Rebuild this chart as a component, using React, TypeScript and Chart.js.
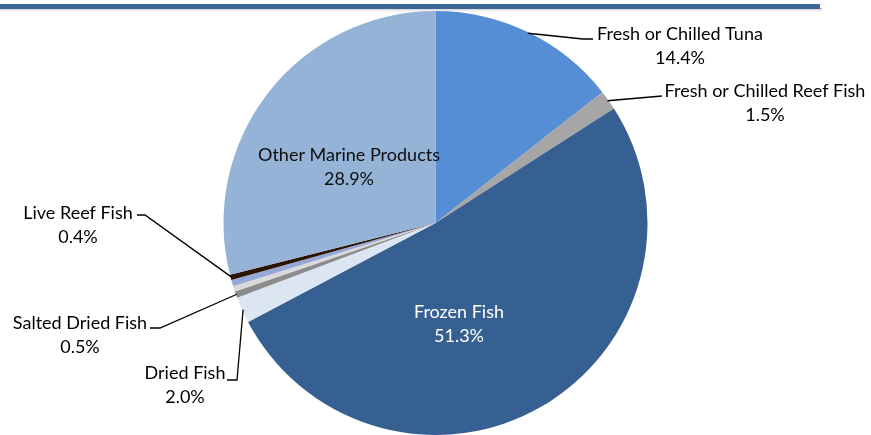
import React, { useEffect, useRef } from "react";
import { Chart, registerables } from "chart.js";

Chart.register(...registerables);

const categories = [
  "Fresh or Chilled Tuna",
  "Fresh or Chilled Reef Fish",
  "Frozen Fish",
  "Dried Fish",
  "Salted Dried Fish",
  "Other Fish (unlabelled)",
  "Other Fish Products (unlabelled)",
  "Live Reef Fish",
  "Other Marine Products",
];
const shares = [14.4, 1.5, 51.3, 2.0, 0.5, 0.4, 0.5, 0.4, 28.9];
const shareLabels = ["14.4%", "1.5%", "51.3%", "2.0%", "0.5%", "", "", "0.4%", "28.9%"];
const sliceColors = [
  "#558ED5",
  "#A6A6A6",
  "#376092",
  "#DCE6F2",
  "#8C8C8C",
  "#D9D9D9",
  "#95A8D8",
  "#2B1500",
  "#95B3D7",
];

// label layout: index, text center, text color, leader path (after arc edge point)
const labelLayout = [
  { i: 0, x: 680, y: 34, color: "#000", leader: [[583, 39], [593, 39]] },
  { i: 1, x: 765, y: 91, color: "#000", leader: [[662, 96]] },
  { i: 2, x: 459, y: 312, color: "#FFFFFF", leader: null },
  { i: 3, x: 185, y: 373, color: "#000", leader: [[237, 380], [227, 380]] },
  { i: 4, x: 80, y: 323, color: "#000", leader: [[160, 328], [150, 328]] },
  { i: 7, x: 78, y: 213, color: "#000", leader: [[145, 215], [137, 215]] },
  { i: 8, x: 349, y: 155, color: "#0D0D0D", leader: null },
];

const FONT = "18px Lato, 'Open Sans', sans-serif";

const decoPlugin = {
  id: "deco",
  beforeDraw(chart: any) {
    const ctx = chart.ctx;
    ctx.save();
    const g = ctx.createLinearGradient(0, 8, 0, 13);
    g.addColorStop(0, "rgba(120,120,120,0.55)");
    g.addColorStop(1, "rgba(255,255,255,0)");
    ctx.fillStyle = g;
    ctx.fillRect(0, 8, 822, 5);
    ctx.fillStyle = "#3B6497";
    ctx.fillRect(0, 4, 820, 5);
    ctx.restore();
  },
  afterDraw(chart: any) {
    const ctx = chart.ctx;
    const meta = chart.getDatasetMeta(0);
    ctx.save();
    ctx.font = FONT;
    ctx.textAlign = "center";
    ctx.textBaseline = "middle";
    for (const lab of labelLayout) {
      const arc = meta.data[lab.i];
      if (lab.leader) {
        const { x, y, startAngle, endAngle, outerRadius } = arc.getProps(
          ["x", "y", "startAngle", "endAngle", "outerRadius"],
          true
        );
        const mid = (startAngle + endAngle) / 2;
        const sx = x + Math.cos(mid) * (outerRadius - 1);
        const sy = y + Math.sin(mid) * (outerRadius - 1);
        ctx.strokeStyle = "#000";
        ctx.lineWidth = 1.3;
        ctx.beginPath();
        ctx.moveTo(sx, sy);
        for (const p of lab.leader) ctx.lineTo(p[0], p[1]);
        ctx.stroke();
      }
      ctx.fillStyle = lab.color;
      ctx.fillText(categories[lab.i], lab.x, lab.y);
      ctx.fillText(shareLabels[lab.i], lab.x, lab.y + 24);
    }
    ctx.restore();
  },
};

export default function App() {
  const ref = useRef<HTMLCanvasElement | null>(null);
  useEffect(() => {
    document.body.style.margin = "0";
    const chart = new Chart(ref.current as HTMLCanvasElement, {
      type: "pie",
      data: {
        labels: categories,
        datasets: [
          {
            data: shares,
            backgroundColor: sliceColors,
            borderWidth: 0,
          },
        ],
      },
      options: {
        responsive: false,
        animation: false,
        layout: { padding: { top: 11, bottom: 0, left: 0, right: 0 } },
        plugins: {
          legend: { display: false },
          tooltip: { enabled: false },
          title: { display: false },
        },
      },
      plugins: [decoPlugin],
    });
    return () => chart.destroy();
  }, []);
  return (
    <div style={{ position: "absolute", left: 0, top: 0, width: 871, height: 435, background: "#fff" }}>
      <canvas ref={ref} width={871} height={435} />
    </div>
  );
}
